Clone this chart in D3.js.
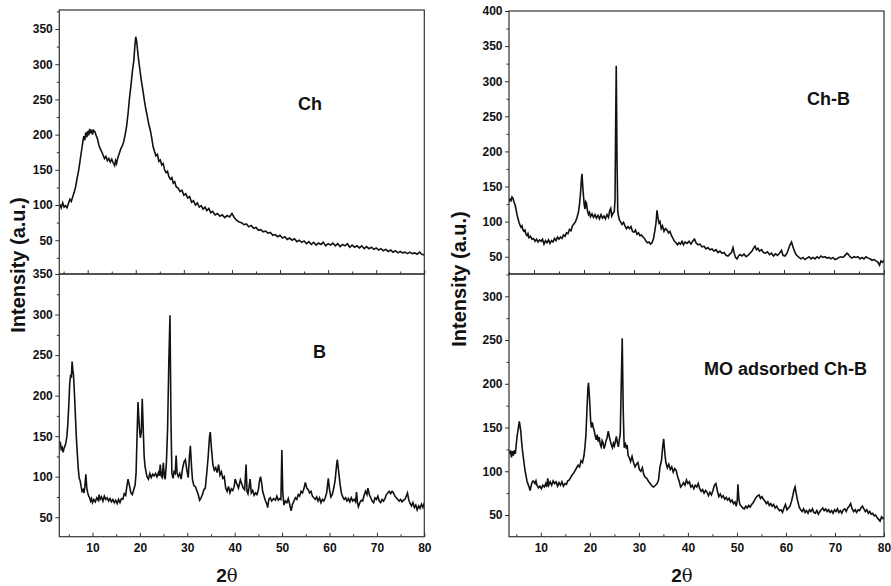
<!DOCTYPE html>
<html><head><meta charset="utf-8">
<script src="https://cdn.jsdelivr.net/npm/d3@7"></script>
<style>
html,body{margin:0;padding:0;background:#fff;}
svg{display:block;}
text{font-family:"Liberation Sans",Arial,sans-serif;}
</style></head>
<body>
<svg id="c" width="891" height="586"></svg>
<script>
// ---------- DATA (2θ, intensity) ----------
const seriesCh = [[4.2,101],[4.5,96],[4.8,103],[5.1,97],[5.4,99],[5.7,96],[6.0,102],[6.3,108],[6.6,105],[6.9,112],[7.2,118],[7.5,126],[7.8,138],[8.1,148],[8.4,162],[8.7,176],[9.0,190],[9.2,198],[9.4,192],[9.6,203],[9.8,196],[10.0,205],[10.2,199],[10.4,208],[10.6,202],[10.8,207],[11.0,200],[11.2,206],[11.5,204],[11.8,198],[12.0,195],[12.3,186],[12.6,180],[12.9,176],[13.2,171],[13.5,166],[13.8,169],[14.1,163],[14.4,166],[14.7,161],[15.0,165],[15.3,160],[15.6,156],[15.8,163],[16.0,159],[16.3,168],[16.6,174],[16.9,180],[17.2,184],[17.5,190],[17.8,200],[18.1,212],[18.4,230],[18.7,252],[19.0,270],[19.3,290],[19.6,305],[19.8,325],[20.0,339],[20.2,332],[20.4,318],[20.6,306],[20.9,290],[21.2,275],[21.5,262],[21.8,248],[22.1,236],[22.4,226],[22.7,215],[23.0,207],[23.3,196],[23.6,183],[23.9,176],[24.2,170],[24.5,172],[24.8,162],[25.1,164],[25.4,157],[25.7,159],[26.0,150],[26.3,146],[26.6,148],[26.9,140],[27.2,137],[27.5,139],[27.8,131],[28.1,133],[28.4,126],[28.8,124],[29.2,119],[29.6,121],[30.0,114],[30.4,116],[30.8,110],[31.2,112],[31.6,104],[32.0,106],[32.4,100],[32.8,103],[33.2,97],[33.6,99],[34.0,94],[34.4,97],[34.8,92],[35.2,95],[35.6,89],[36.0,91],[36.5,86],[37.0,88],[37.5,84],[38.0,86],[38.5,82],[39.0,85],[39.5,83],[40.0,88],[40.5,82],[41.0,78],[41.5,76],[42.0,75],[42.5,72],[43.0,73],[43.5,69],[44.0,71],[44.5,67],[45.0,68],[45.5,64],[46.0,65],[46.5,62],[47.0,63],[47.5,60],[48.0,61],[48.5,57],[49.0,58],[49.5,55],[50.0,57],[50.5,53],[51.0,55],[51.5,51],[52.0,53],[52.5,50],[53.0,52],[53.5,48],[54.0,50],[54.5,47],[55.0,49],[55.5,45],[56.0,48],[56.5,44],[57.0,47],[57.5,43],[58.0,46],[58.5,44],[59.0,47],[59.5,42],[60.0,45],[60.5,43],[61.0,46],[61.5,42],[62.0,45],[62.5,41],[63.0,44],[63.5,42],[64.0,45],[64.5,40],[65.0,43],[65.5,40],[66.0,42],[66.5,39],[67.0,42],[67.5,38],[68.0,41],[68.5,38],[69.0,40],[69.5,37],[70.0,39],[70.5,36],[71.0,38],[71.5,35],[72.0,37],[72.5,34],[73.0,36],[73.5,33],[74.0,35],[74.5,32],[75.0,34],[75.5,32],[76.0,33],[76.5,31],[77.0,33],[77.5,31],[78.0,32],[78.5,30],[79.0,33],[79.5,30],[80.0,29]];

const seriesB = [[3.0,140],[3.2,143],[3.4,134],[3.6,136],[3.8,130],[4.0,135],[4.2,138],[4.4,142],[4.6,150],[4.8,165],[5.0,188],[5.2,215],[5.4,226],[5.55,222],[5.7,242],[5.85,232],[6.0,225],[6.2,202],[6.4,175],[6.6,148],[6.8,128],[7.0,110],[7.2,98],[7.4,95],[7.6,88],[7.8,82],[8.0,84],[8.2,80],[8.4,88],[8.6,103],[8.8,86],[9.0,80],[9.2,76],[9.4,74],[9.6,70],[9.8,73],[10.0,68],[10.3,72],[10.6,69],[10.9,74],[11.2,71],[11.4,78],[11.6,72],[11.9,75],[12.2,70],[12.5,76],[12.8,72],[13.1,74],[13.4,70],[13.7,73],[14.0,69],[14.3,72],[14.6,68],[14.9,71],[15.2,67],[15.5,72],[15.8,68],[16.1,73],[16.4,72],[16.7,79],[17.0,77],[17.2,86],[17.5,97],[17.8,89],[18.1,80],[18.4,78],[18.7,84],[19.0,90],[19.2,105],[19.4,150],[19.6,192],[19.75,175],[19.9,160],[20.1,148],[20.3,155],[20.5,196],[20.7,160],[20.9,125],[21.1,112],[21.3,106],[21.5,100],[21.8,97],[22.1,104],[22.4,99],[22.7,103],[23.0,101],[23.3,104],[23.6,100],[23.9,105],[24.1,101],[24.3,115],[24.5,101],[24.7,99],[24.95,117],[25.15,100],[25.35,97],[25.6,118],[25.85,160],[26.1,240],[26.35,299],[26.55,175],[26.75,104],[27.0,98],[27.2,106],[27.45,104],[27.65,126],[27.85,104],[28.1,100],[28.4,104],[28.7,97],[29.0,110],[29.3,118],[29.6,121],[29.9,108],[30.2,99],[30.45,125],[30.65,138],[30.9,112],[31.1,96],[31.4,89],[31.7,88],[32.0,83],[32.3,78],[32.6,71],[32.9,74],[33.2,78],[33.5,84],[33.8,86],[34.1,104],[34.4,124],[34.7,150],[34.85,155],[35.1,135],[35.4,115],[35.7,108],[36.0,111],[36.3,105],[36.6,115],[36.9,102],[37.2,106],[37.5,98],[37.8,100],[38.1,86],[38.4,82],[38.7,88],[39.0,80],[39.3,85],[39.6,83],[39.9,88],[40.1,97],[40.4,92],[40.8,86],[41.2,96],[41.5,91],[41.8,86],[42.1,84],[42.4,115],[42.6,82],[42.8,79],[43.0,86],[43.25,97],[43.5,80],[43.8,83],[44.1,77],[44.4,80],[44.7,78],[45.0,84],[45.25,95],[45.45,100],[45.7,92],[45.9,82],[46.2,76],[46.5,70],[46.8,66],[46.95,62],[47.2,72],[47.5,74],[47.8,70],[48.2,73],[48.6,71],[48.9,76],[49.2,71],[49.5,73],[49.75,72],[49.95,133],[50.15,80],[50.4,65],[50.7,70],[51.0,68],[51.3,73],[51.6,66],[51.9,58],[52.2,66],[52.5,70],[52.8,74],[53.1,72],[53.4,78],[53.7,76],[54.0,82],[54.3,80],[54.6,85],[54.9,93],[55.2,86],[55.5,84],[55.8,80],[56.1,82],[56.4,76],[56.7,74],[57.0,72],[57.3,75],[57.6,70],[57.9,74],[58.2,68],[58.5,72],[58.8,70],[59.1,74],[59.4,80],[59.75,98],[60.0,84],[60.3,75],[60.6,78],[60.9,86],[61.2,96],[61.45,112],[61.65,121],[61.9,108],[62.2,92],[62.5,80],[62.8,75],[63.1,72],[63.4,74],[63.7,70],[64.0,73],[64.3,69],[64.6,74],[64.9,70],[65.2,72],[65.5,69],[65.7,81],[65.9,68],[66.1,63],[66.4,68],[66.7,71],[67.0,70],[67.3,77],[67.6,82],[67.9,78],[68.1,86],[68.4,78],[68.7,74],[69.0,70],[69.3,68],[69.6,74],[69.9,72],[70.2,76],[70.5,70],[70.8,68],[71.1,72],[71.4,70],[71.7,73],[72.0,78],[72.3,80],[72.6,82],[72.9,79],[73.2,82],[73.5,80],[73.8,76],[74.1,74],[74.4,72],[74.7,70],[75.0,72],[75.3,69],[75.6,71],[75.9,72],[76.2,76],[76.45,80],[76.7,72],[77.0,67],[77.3,64],[77.6,68],[77.9,62],[78.2,65],[78.5,59],[78.8,64],[79.1,61],[79.4,66],[79.7,62],[80.0,68]];

const seriesChB = [[5.0,128],[5.2,132],[5.4,130],[5.6,135],[5.8,133],[6.0,128],[6.2,124],[6.4,118],[6.6,110],[6.8,104],[7.0,99],[7.2,95],[7.4,92],[7.6,94],[7.8,88],[8.0,86],[8.2,88],[8.4,82],[8.6,80],[8.8,83],[9.0,77],[9.3,79],[9.6,75],[9.9,76],[10.2,72],[10.5,75],[10.8,71],[11.1,74],[11.4,72],[11.7,75],[12.0,68],[12.3,73],[12.6,70],[12.9,74],[13.2,69],[13.5,73],[13.8,71],[14.1,76],[14.4,73],[14.7,78],[15.0,75],[15.3,78],[15.6,76],[15.9,81],[16.2,79],[16.5,84],[16.8,83],[17.1,89],[17.4,87],[17.7,94],[18.0,97],[18.3,100],[18.6,106],[18.9,114],[19.1,125],[19.3,140],[19.5,162],[19.6,168],[19.75,150],[19.9,136],[20.05,124],[20.2,118],[20.35,128],[20.5,126],[20.7,115],[20.9,110],[21.1,113],[21.3,107],[21.6,111],[21.9,106],[22.2,110],[22.5,105],[22.8,109],[23.1,104],[23.4,110],[23.7,105],[24.0,108],[24.3,104],[24.6,110],[24.9,106],[25.15,116],[25.35,119],[25.55,108],[25.8,112],[26.05,114],[26.2,130],[26.35,250],[26.45,322],[26.6,190],[26.75,115],[26.9,108],[27.1,102],[27.3,100],[27.6,96],[27.9,99],[28.2,94],[28.5,90],[28.8,93],[29.1,90],[29.4,93],[29.7,86],[30.0,85],[30.3,88],[30.6,82],[30.9,84],[31.2,80],[31.5,81],[31.8,78],[32.1,76],[32.4,72],[32.7,70],[33.0,71],[33.3,68],[33.6,70],[33.9,76],[34.15,86],[34.4,98],[34.6,116],[34.8,105],[35.0,98],[35.2,100],[35.45,90],[35.7,94],[36.0,86],[36.3,90],[36.6,88],[36.9,84],[37.2,86],[37.5,80],[37.8,76],[38.1,72],[38.4,70],[38.7,67],[39.0,70],[39.3,68],[39.6,72],[39.9,67],[40.2,71],[40.6,69],[41.0,72],[41.4,68],[41.8,73],[42.1,75],[42.4,70],[42.8,67],[43.2,68],[43.6,64],[44.0,65],[44.4,61],[44.8,63],[45.2,60],[45.6,61],[46.0,58],[46.4,60],[46.8,56],[47.2,58],[47.6,55],[48.0,56],[48.4,52],[48.8,51],[49.2,54],[49.5,56],[49.8,63],[50.05,55],[50.3,49],[50.6,47],[50.9,51],[51.2,53],[51.6,51],[52.0,54],[52.4,50],[52.8,52],[53.2,55],[53.6,58],[53.9,62],[54.2,65],[54.5,60],[54.8,62],[55.1,58],[55.5,60],[55.9,56],[56.3,55],[56.7,57],[57.1,53],[57.5,55],[57.9,51],[58.3,54],[58.7,52],[59.1,55],[59.5,59],[59.8,52],[60.2,51],[60.6,55],[60.9,61],[61.2,67],[61.5,71],[61.8,64],[62.1,58],[62.4,53],[62.7,51],[63.0,49],[63.4,47],[63.8,49],[64.2,46],[64.6,48],[65.0,50],[65.4,47],[65.8,49],[66.2,47],[66.6,50],[67.0,48],[67.4,51],[67.8,49],[68.2,50],[68.6,48],[69.0,49],[69.4,47],[69.8,49],[70.2,46],[70.6,47],[71.0,49],[71.4,50],[71.8,49],[72.2,52],[72.6,55],[72.9,53],[73.2,50],[73.6,48],[74.0,50],[74.4,49],[74.8,50],[75.2,47],[75.6,49],[76.0,47],[76.4,50],[76.8,48],[77.2,47],[77.6,45],[78.0,46],[78.4,44],[78.8,42],[79.1,38],[79.4,44],[79.7,42],[80.0,45]];

const seriesMO = [[3.6,120],[3.8,124],[4.0,116],[4.2,123],[4.4,118],[4.6,124],[4.8,120],[5.0,132],[5.2,142],[5.4,149],[5.6,157],[5.75,152],[5.9,146],[6.05,135],[6.2,126],[6.4,117],[6.6,108],[6.8,100],[7.0,94],[7.2,88],[7.4,85],[7.6,82],[7.8,78],[8.0,83],[8.2,87],[8.4,89],[8.6,88],[8.8,86],[9.0,89],[9.2,84],[9.5,81],[9.8,83],[10.1,80],[10.4,84],[10.7,82],[11.0,86],[11.2,82],[11.4,92],[11.6,84],[11.9,88],[12.2,84],[12.5,89],[12.8,86],[13.1,88],[13.4,83],[13.7,87],[14.0,84],[14.3,88],[14.6,83],[14.9,86],[15.2,85],[15.5,89],[15.8,90],[16.1,93],[16.4,96],[16.7,98],[17.0,101],[17.3,104],[17.6,107],[17.9,105],[18.2,112],[18.5,110],[18.8,118],[19.0,128],[19.2,142],[19.4,170],[19.6,195],[19.72,201],[19.85,190],[20.0,176],[20.15,158],[20.3,150],[20.5,156],[20.7,150],[20.9,146],[21.1,140],[21.3,136],[21.5,142],[21.7,134],[21.9,139],[22.1,131],[22.3,128],[22.5,135],[22.7,132],[22.9,126],[23.1,130],[23.3,135],[23.5,138],[23.75,146],[23.95,140],[24.2,134],[24.4,130],[24.6,127],[24.8,132],[25.0,129],[25.2,134],[25.4,140],[25.6,133],[25.8,128],[26.0,136],[26.2,143],[26.4,200],[26.6,252],[26.8,170],[27.0,127],[27.2,133],[27.4,126],[27.6,130],[27.8,118],[28.0,116],[28.3,111],[28.6,117],[28.9,110],[29.2,105],[29.5,108],[29.8,110],[30.1,102],[30.4,100],[30.7,104],[31.0,96],[31.3,93],[31.6,92],[32.0,88],[32.3,86],[32.7,83],[33.0,82],[33.4,84],[33.7,86],[34.0,90],[34.3,105],[34.6,112],[34.85,128],[35.05,137],[35.3,120],[35.5,110],[35.8,104],[36.1,108],[36.4,102],[36.7,105],[37.0,99],[37.3,103],[37.6,101],[37.9,94],[38.2,89],[38.5,82],[38.8,84],[39.1,87],[39.4,84],[39.7,90],[40.0,86],[40.3,88],[40.6,82],[40.9,84],[41.2,80],[41.5,84],[41.8,82],[42.1,86],[42.4,80],[42.7,77],[43.0,79],[43.3,75],[43.6,78],[43.9,76],[44.2,72],[44.5,76],[44.8,73],[45.1,78],[45.4,84],[45.7,86],[46.0,78],[46.3,71],[46.6,74],[46.9,70],[47.2,72],[47.5,68],[47.8,70],[48.1,67],[48.4,69],[48.7,65],[49.0,67],[49.3,63],[49.6,65],[49.85,60],[50.05,66],[50.2,85],[50.4,68],[50.6,62],[50.9,60],[51.2,58],[51.5,57],[51.8,60],[52.1,58],[52.4,61],[52.7,59],[53.0,62],[53.3,64],[53.6,67],[53.9,70],[54.2,72],[54.5,73],[54.8,69],[55.1,71],[55.4,68],[55.7,66],[56.0,63],[56.3,65],[56.6,61],[56.9,63],[57.2,60],[57.5,62],[57.8,58],[58.1,60],[58.4,57],[58.7,55],[59.0,56],[59.3,53],[59.6,58],[59.9,62],[60.2,56],[60.5,58],[60.8,60],[61.1,65],[61.4,72],[61.6,78],[61.85,82],[62.1,74],[62.4,66],[62.7,59],[63.0,56],[63.3,54],[63.6,57],[63.9,53],[64.2,55],[64.5,52],[64.8,56],[65.1,54],[65.4,57],[65.7,53],[66.0,52],[66.3,55],[66.6,51],[66.9,54],[67.2,56],[67.5,58],[67.8,55],[68.1,57],[68.4,54],[68.7,56],[69.0,53],[69.3,55],[69.6,52],[69.9,56],[70.2,54],[70.5,57],[70.8,53],[71.1,55],[71.4,52],[71.7,56],[72.0,57],[72.3,54],[72.6,58],[72.9,60],[73.2,63],[73.5,57],[73.8,54],[74.1,56],[74.4,53],[74.7,56],[75.0,55],[75.3,58],[75.6,60],[75.9,57],[76.2,54],[76.5,56],[76.8,52],[77.1,54],[77.4,51],[77.7,52],[78.0,49],[78.3,50],[78.6,47],[78.9,45],[79.2,43],[79.5,48],[79.8,46],[80.0,47]];

const xMajorTicks = [10,20,30,40,50,60,70,80];
const xMinorTicks = [5,15,25,35,45,55,65,75];
const yTicksCh   = [50,100,150,200,250,300,350];
const yTicksB    = [50,100,150,200,250,300,350];
const yTicksChB  = [50,100,150,200,250,300,350,400];
const yTicksMO   = [50,100,150,200,250,300];
const panelLabels = ["Ch","B","Ch-B","MO adsorbed Ch-B"];
const yTitle = "Intensity (a.u.)";

// ---------- LAYOUT ----------
const panels = [
  {data:seriesCh,  x0:59.3, x1:424.3, y0:10,  y1:274,   xd:[4.1,80], yd:[2,377],     yt:yTicksCh,  xlab:false, label:panelLabels[0], lx:298, ly:110},
  {data:seriesB,   x0:59.3, x1:424.3, y0:274, y1:536.7, xd:[3,80],   yd:[26,350],    yt:yTicksB,   xlab:true,  label:panelLabels[1], lx:313, ly:358},
  {data:seriesChB, x0:509,  x1:884,   y0:11,  y1:274,   xd:[5,80],   yd:[25.4,400],  yt:yTicksChB, xlab:false, label:panelLabels[2], lx:807, ly:105},
  {data:seriesMO,  x0:509,  x1:884,   y0:274, y1:536.7, xd:[3.5,80], yd:[25.2,325.5],yt:yTicksMO,  xlab:true,  label:panelLabels[3], lx:704, ly:375}
];

const svg = d3.select("#c");
svg.append("rect").attr("width",891).attr("height",586).attr("fill","#ffffff");

const defs = svg.append("defs");

panels.forEach((p,i)=>{
  const x = d3.scaleLinear().domain(p.xd).range([p.x0,p.x1]);
  const y = d3.scaleLinear().domain(p.yd).range([p.y1,p.y0]);
  const g = svg.append("g");

  defs.append("clipPath").attr("id","clip"+i)
    .append("rect").attr("x",p.x0).attr("y",p.y0).attr("width",p.x1-p.x0).attr("height",p.y1-p.y0);

  // curve
  g.append("path").datum(p.data)
    .attr("clip-path","url(#clip"+i+")")
    .attr("fill","none").attr("stroke","#111").attr("stroke-width",1.6)
    .attr("stroke-linejoin","miter")
    .attr("d", d3.line().x(d=>x(d[0])).y(d=>y(d[1])));

  // frame
  g.append("rect").attr("x",p.x0).attr("y",p.y0).attr("width",p.x1-p.x0).attr("height",p.y1-p.y0)
    .attr("fill","none").attr("stroke","#333").attr("stroke-width",1.2);

  // y axis major
  g.append("g").attr("transform",`translate(${p.x0},0)`)
    .call(d3.axisLeft(y).tickValues(p.yt).tickSize(4).tickPadding(2.5).tickFormat(d3.format("d")));
  // y axis minor
  const yMinor = p.yt.map(v=>v-25).filter(v=>v>p.yd[0] && v<p.yd[1]);
  const yMinor2 = p.yt.map(v=>v+25).filter(v=>v>p.yd[0] && v<p.yd[1] && !yMinor.includes(v));
  g.append("g").attr("transform",`translate(${p.x0},0)`)
    .call(d3.axisLeft(y).tickValues(yMinor.concat(yMinor2)).tickSize(2.5).tickFormat(""));

  // x axis major (inward ticks)
  g.append("g").attr("transform",`translate(0,${p.y1})`)
    .call(d3.axisBottom(x).tickValues(xMajorTicks).tickSize(-4).tickPadding(7)
      .tickFormat(p.xlab ? d3.format("d") : ""));
  g.append("g").attr("transform",`translate(0,${p.y1})`)
    .call(d3.axisBottom(x).tickValues(xMinorTicks).tickSize(-2.5).tickFormat(""));

  g.selectAll(".domain").remove();
  g.selectAll(".tick line").attr("stroke","#333").attr("stroke-width",1);
  g.selectAll(".tick text").attr("fill","#111").attr("font-size","12px").attr("font-weight","bold")
    .attr("font-family","'Liberation Sans',Arial,sans-serif");

  // panel label
  g.append("text").attr("x",p.lx).attr("y",p.ly).text(p.label)
    .attr("font-size","18px").attr("font-weight","bold").attr("fill","#111");
});

// axis titles
[[25,265],[466,279]].forEach(([tx,ty])=>{
  svg.append("text").attr("transform",`translate(${tx},${ty}) rotate(-90)`)
    .attr("text-anchor","middle").attr("font-size","20px").attr("font-weight","bold").attr("fill","#111")
    .text(yTitle);
});
[[227,582],[682,582]].forEach(([tx,ty])=>{
  const t = svg.append("text").attr("x",tx).attr("y",ty).attr("text-anchor","middle")
    .attr("font-size","19px").attr("fill","#111");
  t.append("tspan").attr("font-weight","bold").text("2");
  t.append("tspan").attr("font-family","'DejaVu Serif','Liberation Serif',serif").attr("font-size","18px").text("θ");
});
</script>
</body></html>
